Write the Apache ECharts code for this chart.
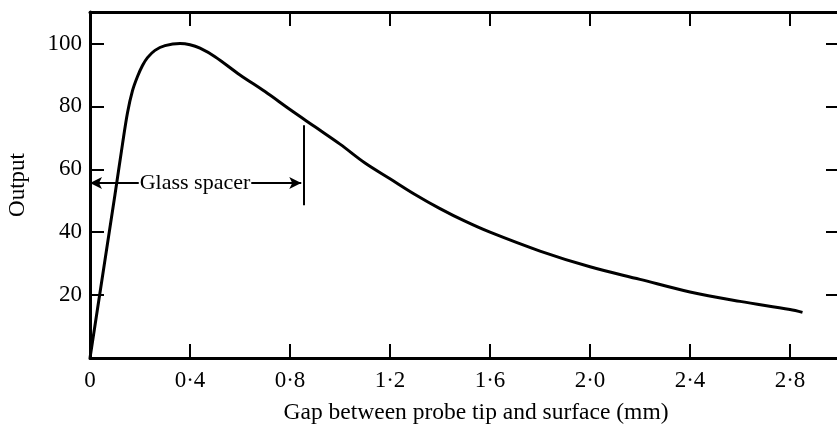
<!DOCTYPE html>
<html>
<head>
<meta charset="utf-8">
<script src="https://cdn.jsdelivr.net/npm/echarts@6/dist/echarts.min.js"></script>
<style>
html,body{margin:0;padding:0;background:#fff;}
#chart{width:837px;height:426px;}
</style>
</head>
<body>
<div id="chart"></div>
<script>
// Gap (mm) and output values
const gapValues = [0, 0.05, 0.1, 0.13, 0.15, 0.17, 0.19, 0.21, 0.23, 0.26, 0.3, 0.36, 0.4, 0.44, 0.5, 0.6, 0.7, 0.8, 0.9, 1.0, 1.1, 1.2, 1.3, 1.4, 1.5, 1.6, 1.8, 2.0, 2.2, 2.4, 2.6, 2.8, 2.85];
const outputValues = [0, 26, 52, 68, 78, 85, 89.5, 93, 95.5, 97.8, 99.3, 100, 99.6, 98.5, 95.8, 90, 84.7, 79, 73.5, 68, 62, 57, 52, 47.5, 43.5, 40, 34, 29, 25, 21, 18, 15.4, 14.5];

const xTicks = [0, 0.4, 0.8, 1.2, 1.6, 2.0, 2.4, 2.8];
const xTickLabels = ['0', '0·4', '0·8', '1·2', '1·6', '2·0', '2·4', '2·8'];
const yTicks = [20, 40, 60, 80, 100];
const yTickLabels = ['20', '40', '60', '80', '100'];

// Glass spacer annotation (data coordinates)
const spacerLabel = 'Glass spacer';
const spacerLeftArrow = [0, 0.195];
const spacerRightArrow = [0.645, 0.845];
const spacerBarX = 0.856;
const spacerLevel = 55.6;
const spacerBarTop = 74;
const spacerBarBottom = 48.6;

const FONT = 'Liberation Serif';

function lookup(ticks, labels) {
  return function (v) {
    const i = ticks.findIndex(t => Math.abs(t - v) < 1e-6);
    return i >= 0 ? labels[i] : '';
  };
}

const axisLineStyle = { color: '#000', width: 3 };
const tickStyle = { color: '#000', width: 2 };

const chart = echarts.init(document.getElementById('chart'));
chart.setOption({
  animation: false,
  backgroundColor: '#fff',
  grid: { left: 90, top: 12, width: 750, height: 346, containLabel: false, outerBoundsMode: 'none' },
  xAxis: [
    {
      type: 'value', min: 0, max: 3, interval: 0.4, position: 'bottom',
      axisLine: { onZero: false, lineStyle: axisLineStyle },
      axisTick: { inside: true, length: 14, lineStyle: tickStyle },
      axisLabel: { margin: 11, fontFamily: FONT, fontSize: 23, color: '#000', formatter: lookup(xTicks, xTickLabels) },
      splitLine: { show: false },
      name: 'Gap between probe tip and surface (mm)',
      nameLocation: 'middle', nameGap: 43,
      nameTextStyle: { fontFamily: FONT, fontSize: 23.5, color: '#000', padding: [0, 0, 0, 22] }
    },
    {
      type: 'value', min: 0, max: 3, interval: 0.4, position: 'top',
      axisLine: { onZero: false, lineStyle: axisLineStyle },
      axisTick: { inside: true, length: 14, lineStyle: tickStyle },
      axisLabel: { show: false },
      splitLine: { show: false }
    }
  ],
  yAxis: [
    {
      type: 'value', min: 0, max: 110, interval: 20, position: 'left',
      axisLine: { onZero: false, lineStyle: axisLineStyle },
      axisTick: { inside: true, length: 14, lineStyle: tickStyle },
      axisLabel: { margin: 8, fontFamily: FONT, fontSize: 23, color: '#000', formatter: lookup(yTicks, yTickLabels) },
      splitLine: { show: false },
      name: 'Output', nameLocation: 'middle', nameGap: 61,
      nameTextStyle: { fontFamily: FONT, fontSize: 23, color: '#000' }
    },
    {
      type: 'value', min: 0, max: 110, interval: 20, position: 'right',
      axisLine: { onZero: false, lineStyle: axisLineStyle },
      axisTick: { inside: true, length: 14, lineStyle: tickStyle },
      axisLabel: { show: false },
      splitLine: { show: false }
    }
  ],
  series: [
    {
      type: 'line',
      xAxisIndex: 0, yAxisIndex: 0,
      data: gapValues.map((g, i) => [g, outputValues[i]]),
      showSymbol: false,
      smooth: 0.35,
      lineStyle: { color: '#000', width: 3 },
      silent: true,
      z: 2,
      markLine: {
        silent: true,
        animation: false,
        lineStyle: { color: '#000', width: 2, type: 'solid' },
        label: { show: false },
        data: [
          [
            { coord: [spacerLeftArrow[0], spacerLevel], symbol: 'arrow', symbolSize: [9, 12] },
            { coord: [spacerLeftArrow[1], spacerLevel], symbol: 'none' }
          ],
          [
            { coord: [spacerRightArrow[0], spacerLevel], symbol: 'none' },
            { coord: [spacerRightArrow[1], spacerLevel], symbol: 'arrow', symbolSize: [9, 12] }
          ],
          [
            { coord: [spacerBarX, spacerBarTop], symbol: 'none' },
            { coord: [spacerBarX, spacerBarBottom], symbol: 'none' }
          ]
        ]
      },
      markPoint: {
        silent: true,
        animation: false,
        symbol: 'rect',
        symbolSize: 1,
        itemStyle: { color: 'rgba(255,255,255,0)', opacity: 1 },
        label: {
          show: true, position: 'inside', formatter: spacerLabel,
          fontFamily: FONT, fontSize: 22, color: '#000', opacity: 1
        },
        data: [
          { coord: [(spacerLeftArrow[1] + spacerRightArrow[0]) / 2, spacerLevel] }
        ]
      }
    }
  ]
});
</script>
</body>
</html>
